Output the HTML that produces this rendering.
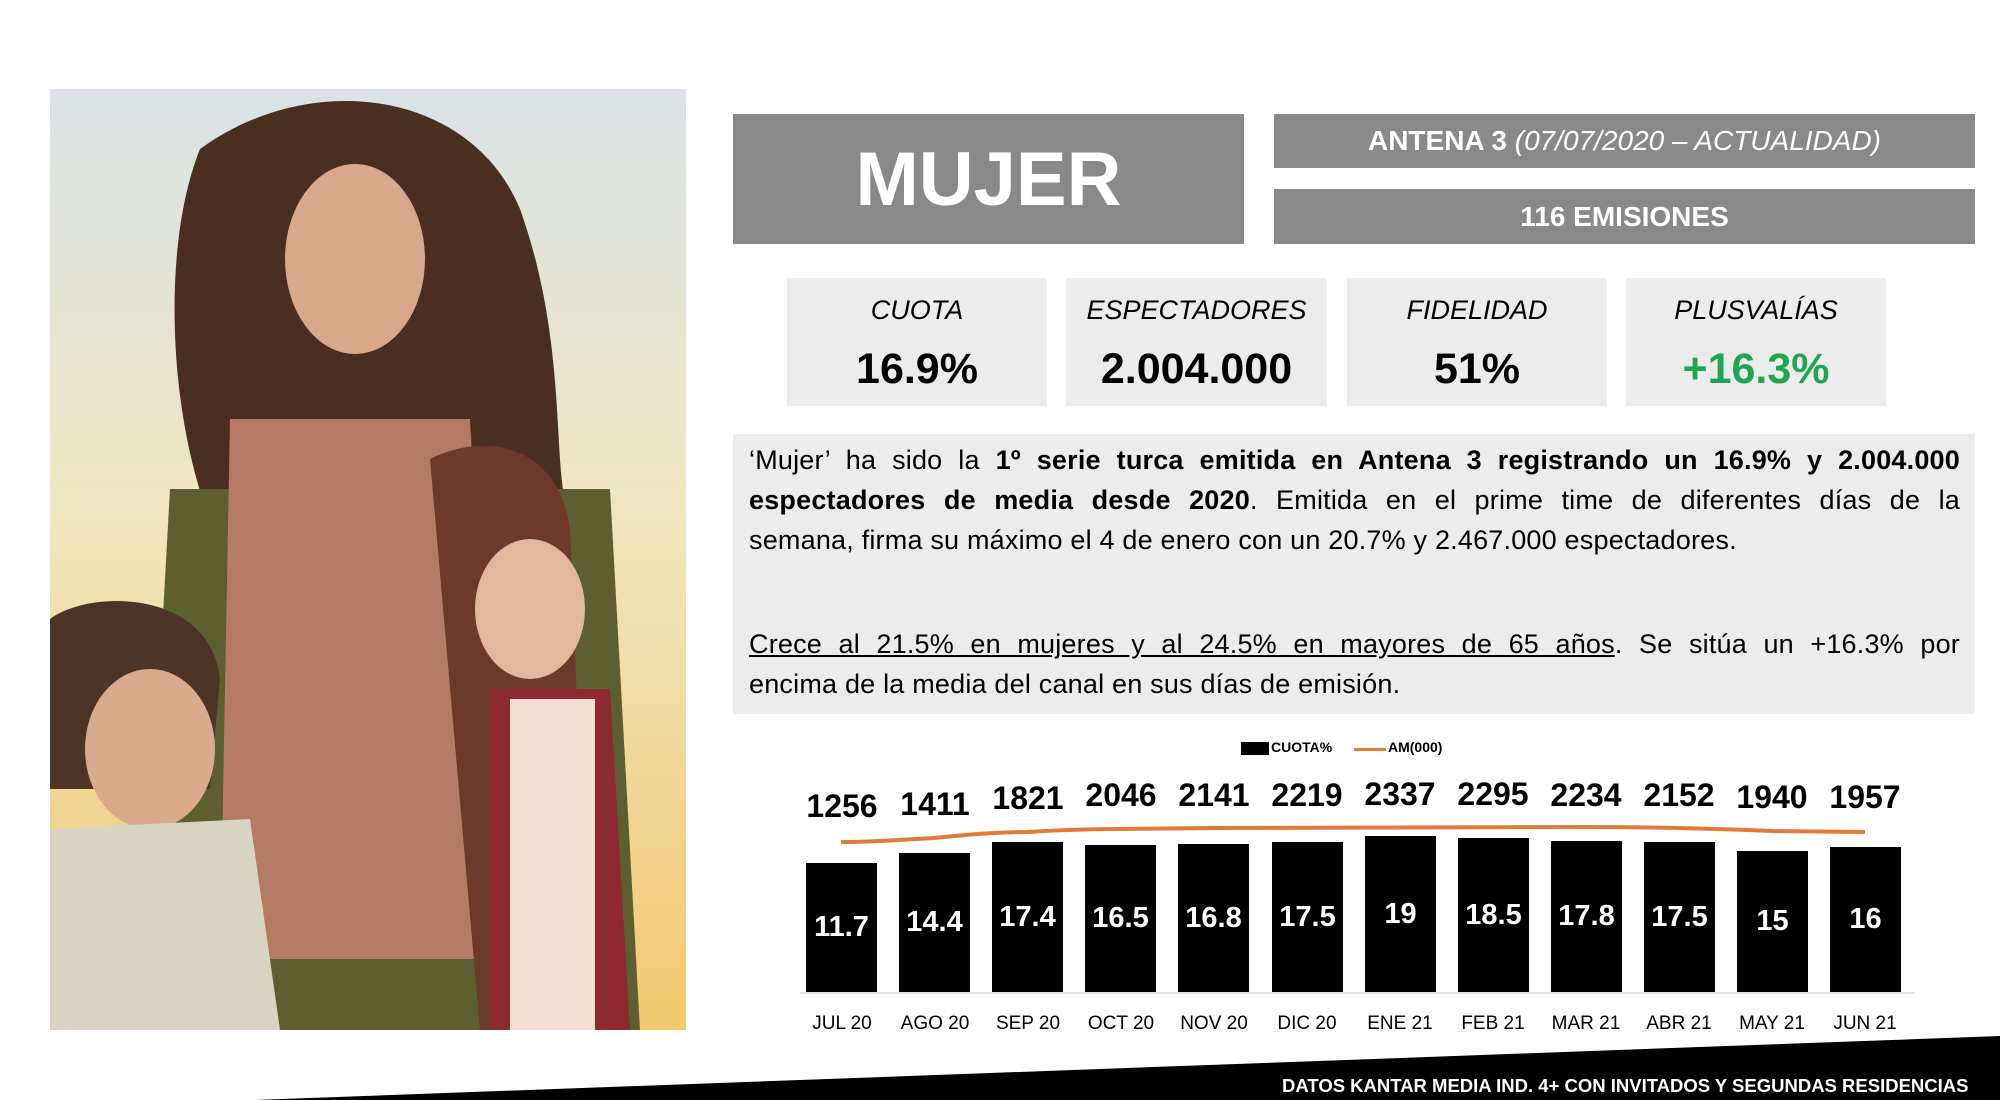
<!DOCTYPE html>
<html><head><meta charset="utf-8"><style>
*{margin:0;padding:0;box-sizing:border-box}
body{width:2000px;height:1100px;background:#fff;position:relative;overflow:hidden;font-family:"Liberation Sans",sans-serif;color:#000}
.a{position:absolute}
.gray{background:#898989;color:#fff;display:flex;align-items:center;justify-content:center}
.stat{background:#ececec;text-align:center}
.stat .l{font-style:italic;font-size:27px;margin-top:17px}
.stat .v{font-weight:bold;font-size:43px;margin-top:19px}
.ln{position:absolute;left:749px;width:1211px;font-size:27px;text-align:justify;text-align-last:justify;white-space:nowrap;letter-spacing:0.2px}
.ln.last{text-align-last:left}
.bar{position:absolute;background:#000;width:71px;bottom:108px;color:#fff;font-weight:bold;font-size:29px;display:flex;align-items:center;justify-content:center}
.top{position:absolute;width:100px;text-align:center;font-weight:bold;font-size:32px}
.xl{position:absolute;width:100px;text-align:center;font-size:19px;top:1013px}
</style></head><body>
<svg class="a" style="left:50px;top:89px" width="636" height="941" viewBox="0 0 636 941">
<defs><linearGradient id="sky" x1="0" y1="0" x2="0" y2="1"><stop offset="0" stop-color="#d9e3e6"/><stop offset="0.45" stop-color="#f0e6c0"/><stop offset="1" stop-color="#f2c870"/></linearGradient></defs>
<rect width="636" height="941" fill="url(#sky)"/>
<path d="M150 60 C260 -20 420 0 470 120 C520 260 500 380 520 430 L160 430 C120 330 110 160 150 60Z" fill="#4a2e20"/>
<path d="M120 400 L560 400 L590 941 L90 941Z" fill="#5d5f30"/>
<path d="M180 330 L420 330 L450 870 L170 870Z" fill="#b57a62"/>
<ellipse cx="305" cy="170" rx="70" ry="95" fill="#d8a88a"/>
<path d="M380 370 C440 340 510 360 520 440 L540 941 L430 941 Z" fill="#6b3a2a"/>
<ellipse cx="480" cy="520" rx="55" ry="70" fill="#e0b89a"/>
<path d="M440 600 L560 600 L580 941 L440 941Z" fill="#8c2a30"/>
<path d="M460 610 L545 610 L545 941 L460 941Z" fill="#f3e0d2"/>
<path d="M0 530 C40 500 160 500 170 590 L160 700 L0 700Z" fill="#4e3426"/>
<ellipse cx="100" cy="660" rx="65" ry="80" fill="#d9ab8c"/>
<path d="M0 740 L200 730 L230 941 L0 941Z" fill="#d8d3c2"/>
</svg>
<div class="a gray" style="left:733px;top:114px;width:511px;height:130px;font-weight:bold;font-size:76px">MUJER</div>
<div class="a gray" style="left:1274px;top:114px;width:701px;height:54px;font-size:28px"><b>ANTENA 3</b>&nbsp;<i>(07/07/2020 – ACTUALIDAD)</i></div>
<div class="a gray" style="left:1274px;top:189px;width:701px;height:55px;font-size:28px;font-weight:bold">116 EMISIONES</div>
<div class="a stat" style="left:787px;top:278px;width:260px;height:128px"><div class="l">CUOTA</div><div class="v">16.9%</div></div>
<div class="a stat" style="left:1066px;top:278px;width:261px;height:128px"><div class="l">ESPECTADORES</div><div class="v">2.004.000</div></div>
<div class="a stat" style="left:1347px;top:278px;width:260px;height:128px"><div class="l">FIDELIDAD</div><div class="v">51%</div></div>
<div class="a stat" style="left:1626px;top:278px;width:260px;height:128px"><div class="l">PLUSVALÍAS</div><div class="v" style="color:#22a550">+16.3%</div></div>
<div class="a" style="left:733px;top:434px;width:1242px;height:280px;background:#ececec"></div>
<div class="ln" style="top:445px">‘Mujer’ ha sido la <b>1º serie turca emitida en Antena 3 registrando un 16.9% y 2.004.000</b></div>
<div class="ln" style="top:485px"><b>espectadores de media desde 2020</b>. Emitida en el prime time de diferentes días de la</div>
<div class="ln last" style="top:525px">semana, firma su máximo el 4 de enero con un 20.7% y 2.467.000 espectadores.</div>
<div class="ln" style="top:629px"><u>Crece al 21.5% en mujeres y al 24.5% en mayores de 65 años</u>. Se sitúa un +16.3% por</div>
<div class="ln last" style="top:669px">encima de la media del canal en sus días de emisión.</div>
<div class="a" style="left:1241px;top:742px;width:28px;height:13px;background:#000"></div>
<div class="a" style="left:1271px;top:739px;font-size:14px;font-weight:bold">CUOTA%</div>
<div class="a" style="left:1354px;top:748px;width:32px;height:3px;background:#e07b39"></div>
<div class="a" style="left:1388px;top:739px;font-size:14px;font-weight:bold">AM(000)</div>
<div class="a" style="left:800px;top:992px;width:1115px;height:2px;background:#e4e4e4"></div>
<div class="bar" style="left:806px;height:129px">11.7</div>
<div class="bar" style="left:899px;height:139px">14.4</div>
<div class="bar" style="left:992px;height:150px">17.4</div>
<div class="bar" style="left:1085px;height:147px">16.5</div>
<div class="bar" style="left:1178px;height:148px">16.8</div>
<div class="bar" style="left:1272px;height:150px">17.5</div>
<div class="bar" style="left:1365px;height:156px">19</div>
<div class="bar" style="left:1458px;height:154px">18.5</div>
<div class="bar" style="left:1551px;height:151px">17.8</div>
<div class="bar" style="left:1644px;height:150px">17.5</div>
<div class="bar" style="left:1737px;height:141px">15</div>
<div class="bar" style="left:1830px;height:145px">16</div>
<svg class="a" style="left:0;top:0" width="2000" height="1100"><path d="M841 842 C870 842 900 840 934 838 C965 835 995 832 1027 832 C1060 830 1090 829 1120 829 L1214 828 L1586 827 C1650 827 1700 828 1772 831 L1865 832" fill="none" stroke="#e07b39" stroke-width="4"/>
<polygon points="255,1100 2000,1036 2000,1100" fill="#000"/></svg>
<div class="top" style="left:792px;top:788px">1256</div>
<div class="top" style="left:885px;top:786px">1411</div>
<div class="top" style="left:978px;top:780px">1821</div>
<div class="top" style="left:1071px;top:777px">2046</div>
<div class="top" style="left:1164px;top:777px">2141</div>
<div class="top" style="left:1257px;top:777px">2219</div>
<div class="top" style="left:1350px;top:776px">2337</div>
<div class="top" style="left:1443px;top:776px">2295</div>
<div class="top" style="left:1536px;top:777px">2234</div>
<div class="top" style="left:1629px;top:777px">2152</div>
<div class="top" style="left:1722px;top:779px">1940</div>
<div class="top" style="left:1815px;top:779px">1957</div>
<div class="xl" style="left:792px">JUL 20</div>
<div class="xl" style="left:885px">AGO 20</div>
<div class="xl" style="left:978px">SEP 20</div>
<div class="xl" style="left:1071px">OCT 20</div>
<div class="xl" style="left:1164px">NOV 20</div>
<div class="xl" style="left:1257px">DIC 20</div>
<div class="xl" style="left:1350px">ENE 21</div>
<div class="xl" style="left:1443px">FEB 21</div>
<div class="xl" style="left:1536px">MAR 21</div>
<div class="xl" style="left:1629px">ABR 21</div>
<div class="xl" style="left:1722px">MAY 21</div>
<div class="xl" style="left:1815px">JUN 21</div>
<div class="a" style="left:1282px;top:1075px;width:690px;color:#fff;font-weight:bold;font-size:18.5px;white-space:nowrap">DATOS KANTAR MEDIA IND. 4+ CON INVITADOS Y SEGUNDAS RESIDENCIAS</div>
</body></html>
